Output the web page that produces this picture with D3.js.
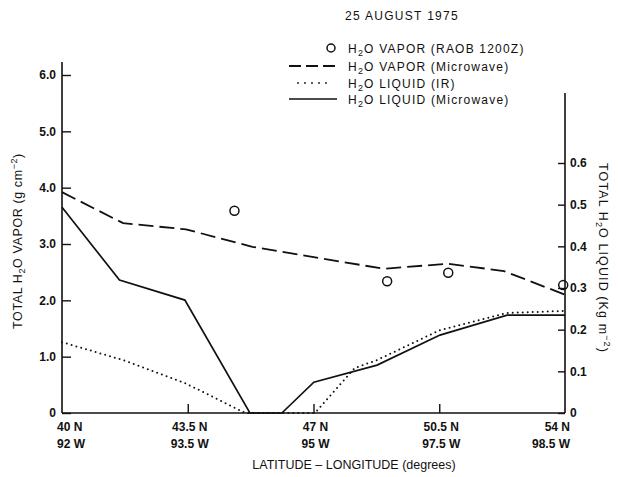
<!DOCTYPE html>
<html>
<head>
<meta charset="utf-8">
<script src="https://cdn.jsdelivr.net/npm/d3@7"></script>
<style>
  body { margin: 0; background: #fff; }
  svg text { font-family: "Liberation Sans", Arial, sans-serif; font-weight: bold; fill: #111; }
</style>
</head>
<body>
<svg id="chart" width="618" height="477"></svg>
<script>
// values
let vaporLat = [40, 41.7, 43.45, 45.3, 48.95, 50.75, 52.3, 54];
let vaporMw = [3.92, 3.37, 3.26, 2.95, 2.56, 2.65, 2.52, 2.1];

let raobLat = [44.8, 49.05, 50.75, 53.95];
let raobVapor = [3.59, 2.34, 2.49, 2.27];

let liqMwLat = [40, 41.6, 43.42, 45.23, 46.12, 47.01, 48.77, 50.52, 52.39, 54];
let liqMw = [0.494, 0.319, 0.271, 0, 0, 0.074, 0.115, 0.187, 0.235, 0.235];

let liqIrLat = [40, 41.7, 43.42, 45.1, 47.04, 48.15, 48.77, 50.52, 52.39, 54];
let liqIr = [0.17, 0.127, 0.072, 0, 0, 0.108, 0.127, 0.199, 0.24, 0.245];

let latTicks = [40, 43.5, 47, 50.5, 54];
let latLabels = ['40 N', '43.5 N', '47 N', '50.5 N', '54 N'];
let lonLabels = ['92 W', '93.5 W', '95 W', '97.5 W', '98.5 W'];
let vaporTicks = [0, 1, 2, 3, 4, 5, 6];
let liquidTicks = [0, 0.1, 0.2, 0.3, 0.4, 0.5, 0.6];

let svg = d3.select('#chart');
let left = 62, right = 565, bottom = 413;

let x = d3.scaleLinear().domain([40, 54]).range([left, right]);
let yV = d3.scaleLinear().domain([0, 6]).range([bottom, 75]);
let yL = d3.scaleLinear().domain([0, 0.6]).range([bottom, 163]);

let g = svg.append('g');

// axes
g.append('line').attr('x1', left).attr('x2', left).attr('y1', 62).attr('y2', bottom)
    .attr('stroke', '#111').attr('stroke-width', 1.6);
g.append('line').attr('x1', right).attr('x2', right).attr('y1', 93).attr('y2', bottom)
    .attr('stroke', '#111').attr('stroke-width', 1.6);
g.append('line').attr('x1', left).attr('x2', right).attr('y1', bottom).attr('y2', bottom)
    .attr('stroke', '#111').attr('stroke-width', 1.6);

let leftAxis = d3.axisRight(yV).tickValues(vaporTicks).tickSize(9)
    .tickFormat(d => d === 0 ? '0' : d.toFixed(1));
let la = g.append('g').attr('transform', `translate(${left},0)`).call(leftAxis);
la.select('.domain').remove();
la.selectAll('line').attr('stroke', '#111').attr('stroke-width', 1.4);
la.selectAll('text').attr('x', -6).attr('text-anchor', 'end').style('font-size', '12px');

let rightAxis = d3.axisLeft(yL).tickValues(liquidTicks).tickSize(7)
    .tickFormat(d => d === 0 ? '0' : d.toFixed(1));
let ra = g.append('g').attr('transform', `translate(${right},0)`).call(rightAxis);
ra.select('.domain').remove();
ra.selectAll('line').attr('stroke', '#111').attr('stroke-width', 1.4);
ra.selectAll('text').attr('x', 5).attr('text-anchor', 'start').style('font-size', '12px');

let bottomAxis = d3.axisTop(x).tickValues(latTicks.slice(1, -1)).tickSize(9).tickFormat('');
let ba = g.append('g').attr('transform', `translate(0,${bottom})`).call(bottomAxis);
ba.select('.domain').remove();
ba.selectAll('line').attr('stroke', '#111').attr('stroke-width', 1.4);

let anchor = i => i === 0 ? 'start' : (i === latTicks.length - 1 ? 'end' : 'middle');
let dx = i => i === 0 ? -5 : (i === latTicks.length - 1 ? 5 : 2);
latTicks.forEach((t, i) => {
    g.append('text').attr('x', x(t) + dx(i)).attr('y', 431).attr('text-anchor', anchor(i))
        .style('font-size', '12px').text(latLabels[i]);
    g.append('text').attr('x', x(t) + dx(i)).attr('y', 448).attr('text-anchor', anchor(i))
        .style('font-size', '12px').text(lonLabels[i]);
});

// axis titles
g.append('text').attr('x', 354).attr('y', 469).attr('text-anchor', 'middle')
    .style('font-size', '12.5px').style('font-weight', 'normal')
    .text('LATITUDE – LONGITUDE (degrees)');

let h2o = (sel) => {
    sel.append('tspan').text('H');
    sel.append('tspan').attr('dy', 3).style('font-size', '9px').text('2');
    sel.append('tspan').attr('dy', -3).text('O');
};

let lt = g.append('text').attr('transform', 'translate(22,241) rotate(-90)')
    .attr('text-anchor', 'middle').style('font-size', '12.5px').style('font-weight', 'normal')
    .style('letter-spacing', '0.6px');
lt.append('tspan').text('TOTAL ');
h2o(lt);
lt.append('tspan').text(' VAPOR (g cm');
lt.append('tspan').attr('dy', -5).style('font-size', '9px').text('−2');
lt.append('tspan').attr('dy', 5).text(')');

let rt = g.append('text').attr('transform', 'translate(599,258) rotate(90)')
    .attr('text-anchor', 'middle').style('font-size', '12.5px').style('font-weight', 'normal')
    .style('letter-spacing', '1.1px');
rt.append('tspan').text('TOTAL ');
h2o(rt);
rt.append('tspan').text(' LIQUID (Kg m');
rt.append('tspan').attr('dy', -5).style('font-size', '9px').text('−2');
rt.append('tspan').attr('dy', 5).text(')');

// series
let lineV = d3.line().x(d => x(d[0])).y(d => yV(d[1]));
let lineL = d3.line().x(d => x(d[0])).y(d => yL(d[1]));

g.append('path').datum(d3.zip(vaporLat, vaporMw)).attr('d', lineV)
    .attr('fill', 'none').attr('stroke', '#111').attr('stroke-width', 1.8)
    .attr('stroke-dasharray', '15,6');

g.append('path').datum(d3.zip(liqMwLat, liqMw)).attr('d', lineL)
    .attr('fill', 'none').attr('stroke', '#111').attr('stroke-width', 1.7);

g.append('path').datum(d3.zip(liqIrLat, liqIr)).attr('d', lineL)
    .attr('fill', 'none').attr('stroke', '#111').attr('stroke-width', 2)
    .attr('stroke-linecap', 'round').attr('stroke-dasharray', '0,5');

g.selectAll('circle.raob').data(d3.zip(raobLat, raobVapor)).enter().append('circle')
    .attr('class', 'raob')
    .attr('cx', d => x(d[0])).attr('cy', d => yV(d[1])).attr('r', 4.5)
    .attr('fill', 'none').attr('stroke', '#111').attr('stroke-width', 1.5);

// title and legend
g.append('text').attr('x', 345).attr('y', 20).style('font-size', '12px')
    .style('font-weight', 'normal').style('letter-spacing', '1.3px').text('25 AUGUST 1975');

let legend = [
    {label: ' VAPOR (RAOB 1200Z)', type: 'circle', y: 48},
    {label: ' VAPOR (Microwave)', type: 'dash', y: 66},
    {label: ' LIQUID (IR)', type: 'dot', y: 83},
    {label: ' LIQUID (Microwave)', type: 'solid', y: 99},
];
legend.forEach(d => {
    if (d.type === 'circle') {
        g.append('circle').attr('cx', 331).attr('cy', d.y).attr('r', 4)
            .attr('fill', 'none').attr('stroke', '#111').attr('stroke-width', 1.5);
    } else {
        let l = g.append('line').attr('x1', 289).attr('x2', 337).attr('y1', d.y).attr('y2', d.y)
            .attr('stroke', '#111').attr('fill', 'none');
        if (d.type === 'dash') l.attr('stroke-width', 1.8).attr('stroke-dasharray', '12,5');
        if (d.type === 'dot') l.attr('stroke-width', 1.8).attr('stroke-linecap', 'round')
            .attr('stroke-dasharray', '0,7').attr('x1', 298).attr('x2', 333);
        if (d.type === 'solid') l.attr('stroke-width', 1.5);
    }
    let t = g.append('text').attr('x', 348).attr('y', d.y + 4.5).style('font-size', '12px')
        .style('font-weight', 'normal').style('letter-spacing', '1.2px');
    h2o(t);
    t.append('tspan').text(d.label);
});
</script>
</body>
</html>
